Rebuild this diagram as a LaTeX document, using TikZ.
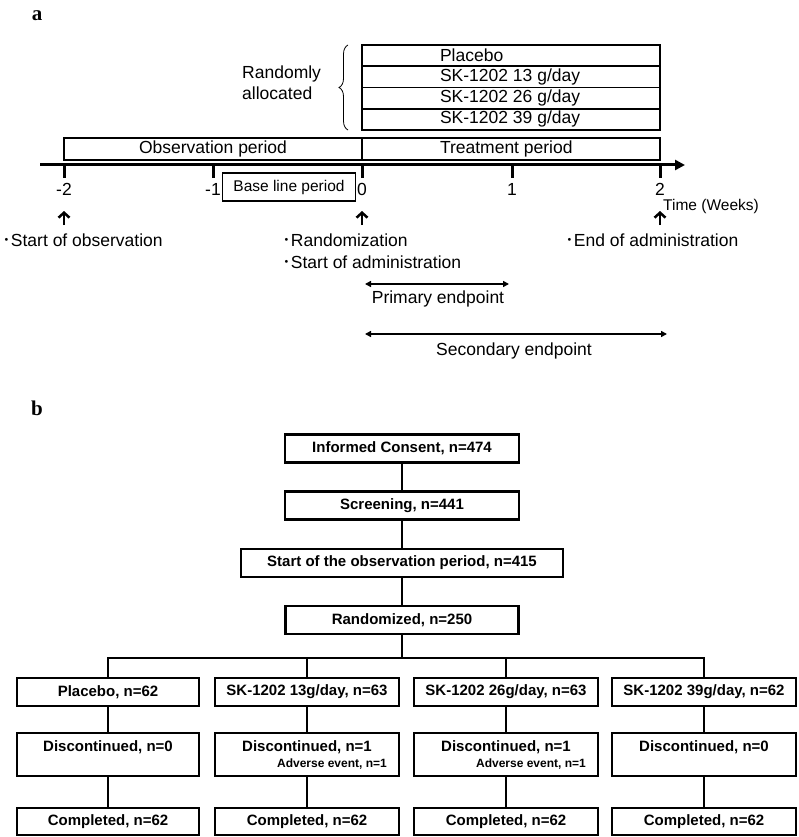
\documentclass[tikz,border=0pt]{standalone}
\usepackage{fontspec}
\setmainfont{Liberation Sans}
\newfontfamily\serifb{Liberation Serif}
\newfontfamily\cjk{Noto Sans CJK JP}
\usetikzlibrary{arrows.meta,decorations.pathreplacing}
\newcommand\lft[1]{\makebox[142pt][l]{#1}}
\newcommand\mdot{{\cjk ･}}
\newcommand\disc[2]{Discontinued, n=#1\\[-1pt]{\fontsize{12}{14}\selectfont\hspace*{50pt}#2}}

\begin{document}
\begin{tikzpicture}[x=1pt,y=-1pt,
  txt/.style={font=\fontsize{17.5}{21}\selectfont,inner sep=0pt},
  small/.style={font=\fontsize{15.5}{18}\selectfont,inner sep=0pt},
  panel/.style={font=\serifb\bfseries\fontsize{21}{24}\selectfont,inner sep=0pt},
  period/.style={txt,draw,line width=1.8pt,minimum width=298pt,minimum height=21.25pt},
  flow/.style={draw,line width=2.8pt,inner sep=0pt,minimum height=28pt,align=center,font=\fontsize{15}{17}\selectfont\bfseries},
  link/.style={line width=2.8pt},
  uparrow/.style={line width=2.5pt,-{Straight Barb[length=5pt,width=11pt]}},
  span/.style={line width=2pt,{Triangle[length=6pt,width=6pt]}-{Triangle[length=6pt,width=6pt]}}]

\useasboundingbox (0,0) rectangle (798,837);

% a: schedule
\node[panel] (lbla) at (37,16) {a};

\node[period] (alloc1) at (511,55.6) {\lft{Placebo}};
\node[period] (alloc2) at (511,76.9) {\lft{SK-1202 13 g/day}};
\node[period] (alloc3) at (511,98.1) {\lft{SK-1202 26 g/day}};
\node[period] (alloc4) at (511,119.4) {\lft{SK-1202 39 g/day}};
\draw[decorate,decoration={brace,amplitude=9pt},line width=0.8pt] (348,130) -- (348,45);
\node[txt,align=left,anchor=west] (rand) at (242,83) {Randomly\\allocated};

\node[period,minimum height=22pt] (obs) at (213,149) {Observation period};
\node[period,minimum height=22pt] (trt) at (511,149) {\lft{Treatment period}};

\coordinate (ax0) at (40,165);
\coordinate (ax1) at (685,165);
\draw[line width=3pt,-{Triangle[length=10pt,width=10pt]}] (ax0) -- (ax1);
\foreach \x/\w [count=\i] in {64/-2,213/-1,362/0,512/1,660/2}{
  \draw[line width=3pt] (\x,165) -- (\x,178);
  \node[txt] (tick\i) at (\x,189) {\w};
}
\node[small,draw,line width=1.8pt,minimum width=133pt,minimum height=28pt] (base) at (289,187) {Base line period};
\node[small,anchor=west] (time) at (663,206) {Time (Weeks)};

\foreach \x [count=\i] in {64,362,660}{
  \coordinate (ua\i) at (\x,225);
  \coordinate (ub\i) at (\x,211);
  \draw[uparrow] (ua\i) -- (ub\i);
}
\node[txt,anchor=west] (sobs) at (2,240) {\mdot Start of observation};
\node[txt,anchor=west] (rz) at (282,240) {\mdot Randomization};
\node[txt,anchor=west] (sadm) at (282,262) {\mdot Start of administration};
\node[txt,anchor=west] (eadm) at (565,240) {\mdot End of administration};

\coordinate (pe0) at (365,284);
\coordinate (pe1) at (509,284);
\draw[span] (pe0) -- (pe1);
\node[txt] (prim) at (438,298.5) {Primary endpoint};
\coordinate (se0) at (365,334);
\coordinate (se1) at (667,334);
\draw[span] (se0) -- (se1);
\node[txt] (sec) at (514,351) {Secondary endpoint};

% b: flow of subjects
\node[panel] (lblb) at (37,408) {b};

\node[flow,minimum width=234pt] (ic) at (402,448.5) {Informed Consent, n=474};
\node[flow,minimum width=234pt] (scr) at (402,505.5) {Screening, n=441};
\node[flow,minimum width=322pt] (sop) at (402,563) {Start of the observation period, n=415};
\node[flow,minimum width=233pt] (rnd) at (402,620) {Randomized, n=250};
\draw[link] (ic) -- (scr) (scr) -- (sop) (sop) -- (rnd);
\coordinate (br) at (402,658);
\draw[link] (rnd) -- (br);

\node[flow,minimum width=182pt] (pl) at (108,692) {Placebo, n=62};
\node[flow,minimum width=184pt] (s13) at (307,692) {SK-1202 13g/day, n=63};
\node[flow,minimum width=184pt] (s26) at (506,692) {SK-1202 26g/day, n=63};
\node[flow,minimum width=184pt] (s39) at (704,692) {SK-1202 39g/day, n=62};

\node[flow,minimum width=182pt,minimum height=43pt] (dpl) at (108,754.5) {\disc{0}{\phantom{Adverse event, n=1}}};
\node[flow,minimum width=184pt,minimum height=43pt] (d13) at (307,754.5) {\disc{1}{Adverse event, n=1}};
\node[flow,minimum width=184pt,minimum height=43pt] (d26) at (506,754.5) {\disc{1}{Adverse event, n=1}};
\node[flow,minimum width=184pt,minimum height=43pt] (d39) at (704,754.5) {\disc{0}{\phantom{Adverse event, n=1}}};

\node[flow,minimum width=182pt,minimum height=27pt] (cpl) at (108,821.5) {Completed, n=62};
\node[flow,minimum width=184pt,minimum height=27pt] (c13) at (307,821.5) {Completed, n=62};
\node[flow,minimum width=184pt,minimum height=27pt] (c26) at (506,821.5) {Completed, n=62};
\node[flow,minimum width=184pt,minimum height=27pt] (c39) at (704,821.5) {Completed, n=62};

\draw[link] (br) -| (pl) (br) -| (s13) (br) -| (s26) (br) -| (s39);
\draw[link] (pl) -- (dpl) (dpl) -- (cpl);
\draw[link] (s13) -- (d13) (d13) -- (c13);
\draw[link] (s26) -- (d26) (d26) -- (c26);
\draw[link] (s39) -- (d39) (d39) -- (c39);
\end{tikzpicture}
\end{document}
